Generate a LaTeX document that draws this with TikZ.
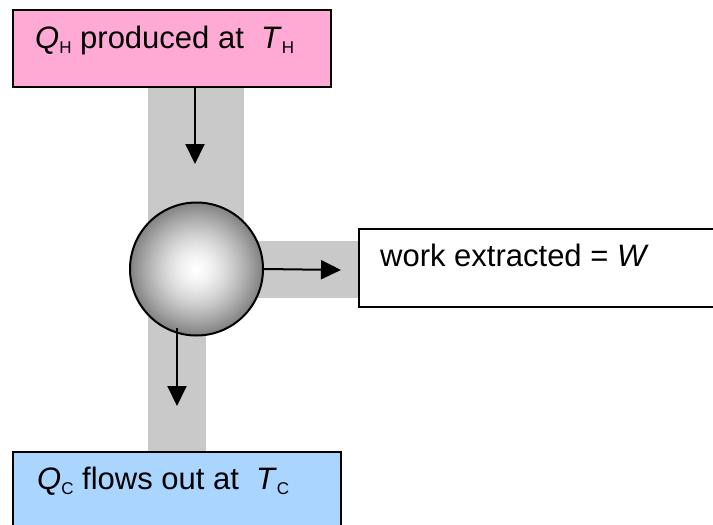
\documentclass[tikz,border=0pt]{standalone}
\usepackage{fontspec}
\setmainfont{Liberation Sans}
\usetikzlibrary{arrows.meta}
\definecolor{hotpink}{RGB}{255,170,213}
\definecolor{coldblue}{RGB}{170,213,255}
\definecolor{band}{RGB}{201,201,201}
\definecolor{balledge}{RGB}{130,130,130}
\newcommand{\sbs}[1]{\raisebox{-5pt}{\fontsize{17pt}{17pt}\selectfont #1}}
\tikzset{
  reservoir/.style={draw=black, line width=2pt, rectangle, inner sep=0pt, outer sep=0pt},
  boxtext/.style={anchor=base west, inner sep=0pt, font=\fontsize{31pt}{31pt}\selectfont},
  flow/.style={line width=2pt, -{Triangle[length=20pt,width=19pt]}},
  bandfill/.style={fill=band, draw=none}
}
\begin{document}
\begin{tikzpicture}[x=1pt,y=-1pt]
\useasboundingbox (0,0) rectangle (713,525);
\clip (0,0) rectangle (713,525);
% background bands
\fill[bandfill] (148,87) rectangle (244,270);
\fill[bandfill] (148,270) rectangle (206,452);
\fill[bandfill] (196,241) rectangle (359,298);
% boxes
\node[reservoir, fill=hotpink, minimum width=318pt, minimum height=77pt] (hot) at (172,48.5) {};
\node[reservoir, fill=white, minimum width=380pt, minimum height=78pt] (work) at (549,268) {};
\node[reservoir, fill=coldblue, minimum width=328pt, minimum height=100pt] (cold) at (177,502) {};
\node[boxtext] (hotlabel) at ([xshift=22pt,yshift=-38pt]hot.north west) {\textit{Q}\sbs{H} produced at \ \textit{T}\sbs{H}};
\node[boxtext] (worklabel) at ([xshift=21pt,yshift=-37pt]work.north west) {work extracted = \textit{W}};
\node[boxtext] (coldlabel) at ([xshift=24pt,yshift=-37pt]cold.north west) {\textit{Q}\sbs{C} flows out at \ \textit{T}\sbs{C}};
% engine: radial gradient drawn as concentric discs
\coordinate (enginec) at (196.5,269);
\foreach \i in {0,...,63} {
  \pgfmathsetmacro\ff{1-\i/64}
  \pgfmathsetmacro\rr{66.5*\ff}
  \pgfmathsetmacro\pq{100*\ff^1.5}
  \fill[balledge!\pq!white] (enginec) circle[radius=\rr pt];
}
\node[circle, draw=black, line width=2pt, minimum size=133pt, inner sep=0pt] (engine) at (enginec) {};
% connectors
\coordinate (a1end) at (195,164);
\coordinate (a2end) at (341,270);
\coordinate (a3start) at (177,328);
\coordinate (a3end) at (177,406);
\draw[flow] (hot.south -| a1end) -- (a1end);
\draw[flow] (engine.east) -- (a2end);
\draw[flow] (a3start) -- (a3end);
\end{tikzpicture}
\end{document}
